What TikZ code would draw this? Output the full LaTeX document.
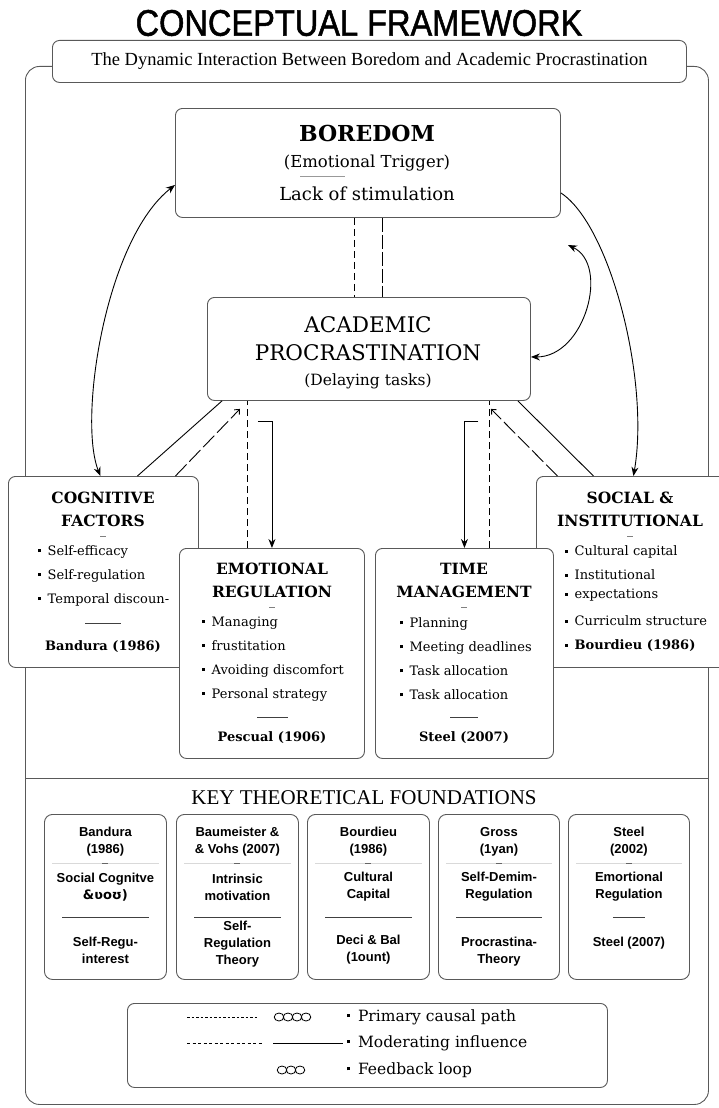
\documentclass[tikz,border=0pt]{standalone}
\usepackage{fontspec}
\setmainfont{DejaVu Serif}
\newfontfamily\headfont[FakeStretch=0.88, FakeBold=1.3]{Liberation Sans}
\newfontfamily\narrowserif{Liberation Serif}
\newfontfamily\cardfont{Liberation Sans}
\newfontfamily\ipafont{DejaVu Sans}
\usetikzlibrary{positioning, arrows.meta, calc}

\newcommand{\bul}{\rule[0.5ex]{3pt}{3pt}\hspace{0.55em}}

\tikzset{
  box/.style={draw=black!65, line width=0.9pt, rounded corners=7pt, fill=white, anchor=north west, inner sep=0pt},
  card/.style={box, minimum height=165pt, rounded corners=8pt},
  headtxt/.style={font=\bfseries\fontsize{15.5}{23}\selectfont, align=center},
  itemtxt/.style={font=\fontsize{13}{24}\selectfont, align=left, anchor=west},
  citetxt/.style={font=\bfseries\fontsize{13}{15}\selectfont},
  cardtxt/.style={font=\cardfont\bfseries\fontsize{13}{17}\selectfont, align=center},
  legtxt/.style={font=\fontsize{15.5}{17}\selectfont, anchor=west},
  rule/.style={draw=black!75, line width=0.9pt},
  faint/.style={draw=black!15, line width=0.6pt},
  link/.style={line width=0.9pt, >={Stealth[length=9pt,width=7pt]}},
  longdash/.style={dash pattern=on 7pt off 4pt},
}

\begin{document}
\begin{tikzpicture}[x=1pt, y=-1pt]
\useasboundingbox (0,0) rectangle (718,1108);

% title and frame
\node[font=\headfont\fontsize{37}{40}\selectfont] (title) at (359,23) {CONCEPTUAL FRAMEWORK};
\node[draw=black!65, line width=0.9pt, rounded corners=14pt, anchor=north west,
      minimum width=683pt, minimum height=1038pt, inner sep=0pt] (frame) at (25,66) {};
\node[box, minimum width=634pt, minimum height=42pt,
      font=\narrowserif\fontsize{18.5}{20}\selectfont] (sub) at (52,40)
      {The Dynamic Interaction Between Boredom and Academic Procrastination};
\coordinate (sep) at (0,778);
\draw[draw=black!65, line width=0.9pt] (frame.west |- sep) -- (frame.east |- sep);

% main boxes
\node[box, minimum width=385pt, minimum height=109pt] (bor) at (175,108) {};
\node[box, minimum width=323pt, minimum height=103pt] (pro) at (207,297) {};
\node[box, minimum width=190pt, minimum height=191pt] (cog) at (8,476) {};
\node[box, minimum width=185pt, minimum height=210pt] (emo) at (179,548) {};
\node[box, minimum width=200pt, minimum height=191pt] (soc) at (536,476) {};
\node[box, minimum width=178pt, minimum height=210pt] (tim) at (375,548) {};

% boredom
\node[font=\bfseries\fontsize{22}{24}\selectfont] (borA) at (367,133) {BOREDOM};
\node[font=\fontsize{16.5}{18}\selectfont] (borB) at (367,163) {(Emotional Trigger)};
\node[font=\fontsize{18}{20}\selectfont] (borC) at (367,194) {Lack of stimulation};
\draw[black!40, line width=0.8pt] (300,176) -- (345,176);

% procrastination
\node[font=\fontsize{21.5}{28}\selectfont, align=center] (proA) at (368,339) {ACADEMIC\\PROCRASTINATION};
\node[font=\fontsize{15.5}{17}\selectfont] (proB) at (368,381) {(Delaying tasks)};

% cognitive
\node[headtxt] (cogA) at (103,509) {COGNITIVE\\FACTORS};
\draw[black!50] (100,536) -- (106,536);
\node[itemtxt] (cogB) at (34,576) {\bul Self-efficacy\\ \bul Self-regulation\\ \bul Temporal discoun-};
\draw[rule] (85,623) -- (121,623);
\node[citetxt] (cogC) at (103,647) {Bandura (1986)};

% emotional
\node[headtxt] (emoA) at (272,580) {EMOTIONAL\\REGULATION};
\draw[black!50] (269,607) -- (275,607);
\node[itemtxt] (emoB) at (198,659) {\bul Managing\\ \bul frustitation\\ \bul Avoiding discomfort\\ \bul Personal strategy};
\draw[rule] (257,717) -- (288,717);
\node[citetxt] (emoC) at (272,738) {Pescual (1906)};

% time
\node[headtxt] (timA) at (464,580) {TIME\\MANAGEMENT};
\draw[black!50] (461,607) -- (467,607);
\node[itemtxt] (timB) at (396,659) {\bul Planning\\ \bul Meeting deadlines\\ \bul Task allocation\\ \bul Task allocation};
\draw[rule] (450,717) -- (478,717);
\node[citetxt] (timC) at (464,738) {Steel (2007)};

% social
\node[headtxt] (socA) at (630,509) {SOCIAL \&\\INSTITUTIONAL};
\draw[black!50] (627,536) -- (633,536);
\node[itemtxt] (socB) at (561,599) {\bul Cultural capital\\ \bul Institutional\\[-5pt] \bul expectations\\[3pt] \bul Curriculm structure\\ \bul\textbf{Bourdieu (1986)}};

% links
\draw[link, longdash] ($(bor.south)+(-14,0)$) -- ($(pro.north)+(-15,0)$);
\draw[link, dash pattern=on 14pt off 3pt] ($(bor.south)+(14,0)$) -- ($(pro.north)+(13,0)$);
\draw[link, <->] ($(bor.west)+(0,22)$) .. controls (105,240) and (78,420) .. ($(cog.north)+(-3,0)$);
\draw[link, ->] ($(bor.east)+(0,30)$) .. controls (610,225) and (650,380) .. ($(soc.north)+(-3,0)$);
\coordinate (fbk) at (568,245);
\draw[link, <->] (fbk) .. controls (610,265) and (585,357) .. ($(pro.east)+(0,8)$);

\draw[link] ($(pro.south west)+(15,0)$) -- ($(cog.north)+(34,0)$);
\draw[link, dash pattern=on 16pt off 4pt, -{Straight Barb[length=4pt,width=7pt]}] ($(cog.north)+(72,0)$) -- ($(pro.south west)+(33,8)$);
\draw[link] ($(pro.south east)+(-13,0)$) -- ($(soc.north)+(-43,0)$);
\draw[link, dash pattern=on 16pt off 4pt, -{Straight Barb[length=4pt,width=7pt]}] ($(soc.north)+(-79,0)$) -- ($(pro.south east)+(-40,8)$);

\coordinate (emoL) at ($(emo.north)+(-25,0)$);
\draw[link, longdash] (emoL) -- (emoL |- pro.south);
\draw[link, ->] ($(emo.north)+(-14,-127)$) -- ++(14,0) -- (emo.north);
\coordinate (timR) at ($(tim.north)+(25,0)$);
\draw[link, longdash] (timR) -- (timR |- pro.south);
\draw[link, ->] ($(tim.north)+(14,-127)$) -- ++(-14,0) -- (tim.north);

% key theoretical foundations
\node[font=\narrowserif\fontsize{21}{23}\selectfont] (key) at (364,798) {KEY THEORETICAL FOUNDATIONS};
\node[card, minimum width=122pt] (c1) at (44,814) {};
\node[card, minimum width=122pt] (c2) at (176,814) {};
\node[card, minimum width=122pt] (c3) at (307,814) {};
\node[card, minimum width=121pt] (c4) at (438,814) {};
\node[card, minimum width=121pt] (c5) at (568,814) {};
\foreach \c in {c1,c2,c3,c4,c5} {
  \draw[faint] ($(\c.north west)+(8,49)$) -- ($(\c.north east)+(-8,49)$);
  \draw[black!60] ($(\c.north)+(-3,49)$) -- ($(\c.north)+(3,49)$);
}
\node[cardtxt] (c1a) at ($(c1.north)+(0,28)$) {Bandura\\(1986)};
\node[cardtxt] (c1b) at ($(c1.north)+(0,73)$) {Social Cognitve\\{\ipafont\&ʋoʊ)}};
\draw[rule] ($(c1.north west)+(18,103)$) -- ($(c1.north east)+(-18,103)$);
\node[cardtxt] (c1c) at ($(c1.north)+(0,136)$) {Self-Regu-\\interest};

\node[cardtxt] (c2a) at ($(c2.north)+(0,28)$) {Baumeister \&\\\& Vohs (2007)};
\node[cardtxt] (c2b) at ($(c2.north)+(0,73)$) {Intrinsic\\motivation};
\draw[rule] ($(c2.north west)+(18,103)$) -- ($(c2.north east)+(-18,103)$);
\node[cardtxt] (c2c) at ($(c2.north)+(0,130)$) {Self-\\Regulation\\Theory};

\node[cardtxt] (c3a) at ($(c3.north)+(0,28)$) {Bourdieu\\(1986)};
\node[cardtxt] (c3b) at ($(c3.north)+(0,73)$) {Cultural\\Capital};
\draw[rule] ($(c3.north west)+(18,103)$) -- ($(c3.north east)+(-18,103)$);
\node[cardtxt] (c3c) at ($(c3.north)+(0,136)$) {Deci \& Bal\\(1ount)};

\node[cardtxt] (c4a) at ($(c4.north)+(0,28)$) {Gross\\(1yan)};
\node[cardtxt] (c4b) at ($(c4.north)+(0,73)$) {Self-Demim-\\Regulation};
\draw[rule] ($(c4.north west)+(18,103)$) -- ($(c4.north east)+(-18,103)$);
\node[cardtxt] (c4c) at ($(c4.north)+(0,138)$) {Procrastina-\\Theory};

\node[cardtxt] (c5a) at ($(c5.north)+(0,28)$) {Steel\\(2002)};
\node[cardtxt] (c5b) at ($(c5.north)+(0,73)$) {Emortional\\Regulation};
\draw[rule] ($(c5.north)+(-16,103)$) -- ($(c5.north)+(16,103)$);
\node[cardtxt] (c5c) at ($(c5.north)+(0,129)$) {Steel (2007)};

% legend
\node[box, minimum width=480pt, minimum height=84pt] (leg) at (127,1003) {};
\draw[line width=0.8pt, dash pattern=on 2.5pt off 2pt] (187,1017) -- (258,1017);
\foreach \i in {0,...,3} \draw[line width=0.8pt] (279+9*\i,1017) circle[x radius=4.8pt, y radius=4pt];
\node[legtxt] (legA) at (343,1017) {\bul Primary causal path};
\draw[line width=0.8pt, dash pattern=on 3pt off 2.5pt] (187,1043) -- (262,1043);
\draw[line width=0.8pt] (273,1043) -- (343,1043);
\node[legtxt] (legB) at (343,1043) {\bul Moderating influence};
\foreach \i in {0,1,2} \draw[line width=0.8pt] (282+9*\i,1070) circle[x radius=4.8pt, y radius=4pt];
\node[legtxt] (legC) at (343,1070) {\bul Feedback loop};
\end{tikzpicture}
\end{document}
